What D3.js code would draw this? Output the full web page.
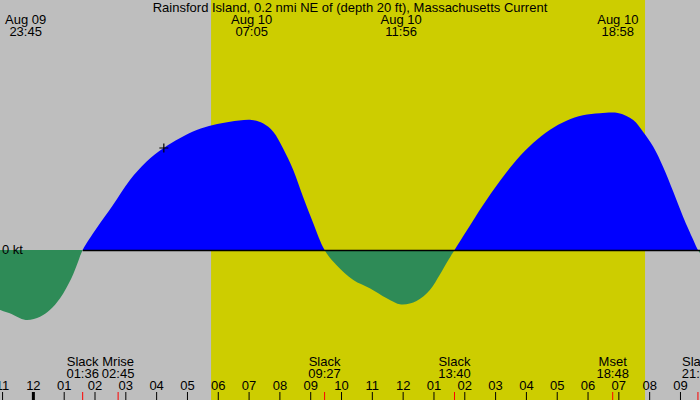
<!DOCTYPE html>
<html>
<head>
<meta charset="utf-8">
<script src="https://cdn.jsdelivr.net/npm/d3@7"></script>
<style>
    body { margin: 0; padding: 0; background: #fff; }
    svg text { font-family: "Liberation Sans", Arial, sans-serif; font-size: 13px; fill: #000; }
</style>
</head>
<body>
<div id="chart"></div>
<script>
var titleText = "Rainsford Island, 0.2 nmi NE of (depth 20 ft), Massachusetts Current";
var startTime = "2025-08-09 22:55";
var endTime = "2025-08-10 21:38";
var sunriseTime = "2025-08-10 05:46";
var sunsetTime = "2025-08-10 19:51";

// current speed in knots (flood +, ebb -)
var curveTimes = [
    "2025-08-09 22:55", "2025-08-09 23:14", "2025-08-09 23:45", "2025-08-10 00:13", "2025-08-10 00:32",
    "2025-08-10 00:52", "2025-08-10 01:14", "2025-08-10 01:27", "2025-08-10 01:36", "2025-08-10 02:03",
    "2025-08-10 02:35", "2025-08-10 03:08", "2025-08-10 03:40", "2025-08-10 04:13", "2025-08-10 04:45",
    "2025-08-10 05:18", "2025-08-10 05:50", "2025-08-10 06:23", "2025-08-10 07:05", "2025-08-10 07:27",
    "2025-08-10 07:47", "2025-08-10 08:06", "2025-08-10 08:26", "2025-08-10 08:45", "2025-08-10 09:05",
    "2025-08-10 09:27", "2025-08-10 09:50", "2025-08-10 10:23", "2025-08-10 10:55", "2025-08-10 11:28",
    "2025-08-10 11:56", "2025-08-10 12:26", "2025-08-10 12:52", "2025-08-10 13:11", "2025-08-10 13:28",
    "2025-08-10 13:40", "2025-08-10 14:03", "2025-08-10 14:36", "2025-08-10 15:08", "2025-08-10 15:41",
    "2025-08-10 16:13", "2025-08-10 16:46", "2025-08-10 17:18", "2025-08-10 17:50", "2025-08-10 18:23",
    "2025-08-10 18:58", "2025-08-10 19:28", "2025-08-10 19:47", "2025-08-10 20:07", "2025-08-10 20:26",
    "2025-08-10 20:46", "2025-08-10 21:05", "2025-08-10 21:25", "2025-08-10 21:34", "2025-08-10 21:38"
];
var curveKnots = [
    -0.60, -0.633, -0.70, -0.667, -0.60,
    -0.483, -0.283, -0.117, 0, 0.217,
    0.45, 0.70, 0.883, 1.017, 1.117,
    1.20, 1.25, 1.283, 1.30, 1.267,
    1.183, 1.017, 0.80, 0.533, 0.267,
    0, -0.15, -0.30, -0.383, -0.483,
    -0.545, -0.51, -0.40, -0.25, -0.10,
    0, 0.187, 0.453, 0.687, 0.903,
    1.07, 1.203, 1.293, 1.347, 1.367,
    1.37, 1.30, 1.183, 1.033, 0.833,
    0.583, 0.333, 0.10, 0, -0.03
];

// max flood / max ebb labels along the top
var peakTimes = ["2025-08-09 23:45", "2025-08-10 07:05", "2025-08-10 11:56", "2025-08-10 18:58"];
var peakDays = ["Aug 09", "Aug 10", "Aug 10", "Aug 10"];
var peakLabels = ["23:45", "07:05", "11:56", "18:58"];

// slack / moon events along the bottom
var eventTimes = ["2025-08-10 01:36", "2025-08-10 02:45", "2025-08-10 09:27", "2025-08-10 13:40", "2025-08-10 18:48", "2025-08-10 21:34"];
var eventNames = ["Slack", "Mrise", "Slack", "Slack", "Mset", "Slack"];
var eventLabels = ["01:36", "02:45", "09:27", "13:40", "18:48", "21:34"];

var nowTime = "2025-08-10 04:14";
var nowKnots = 1.02;
var zeroLabel = "0 kt";

var W = 700, H = 400;
var parse = d3.timeParse("%Y-%m-%d %H:%M");

var data = curveTimes.map(function(t, i) {
    return { t: parse(t), v: curveKnots[i] };
});

var x = d3.scaleTime().domain([parse(startTime), parse(endTime)]).range([0, W]);
var y = d3.scaleLinear().domain([-1, 1]).range([350, 150]);
var y0 = y(0);

var svg = d3.select("#chart").append("svg")
    .attr("width", W)
    .attr("height", H);

// night / day background
svg.append("rect").attr("x", 0).attr("y", 0).attr("width", W).attr("height", H).attr("fill", "#bebebe");
svg.append("rect")
    .attr("x", x(parse(sunriseTime)))
    .attr("y", 0)
    .attr("width", x(parse(sunsetTime)) - x(parse(sunriseTime)))
    .attr("height", H)
    .attr("fill", "#cdcd00");

var defs = svg.append("defs");
defs.append("clipPath").attr("id", "clipFlood")
    .append("rect").attr("x", 0).attr("y", 0).attr("width", W).attr("height", y0);
defs.append("clipPath").attr("id", "clipEbb")
    .append("rect").attr("x", 0).attr("y", y0).attr("width", W).attr("height", H - y0);

var area = d3.area()
    .x(function(d) { return x(d.t); })
    .y0(y0)
    .y1(function(d) { return y(d.v); })
    .curve(d3.curveCatmullRom.alpha(0.5));

svg.append("path").datum(data)
    .attr("d", area)
    .attr("fill", "#0000ff")
    .attr("clip-path", "url(#clipFlood)");
svg.append("path").datum(data)
    .attr("d", area)
    .attr("fill", "#2e8b57")
    .attr("clip-path", "url(#clipEbb)");

// zero line, starts at first slack
svg.append("line")
    .attr("x1", x(parse(eventTimes[0])))
    .attr("x2", W)
    .attr("y1", y0 + 0.5)
    .attr("y2", y0 + 0.5)
    .attr("stroke", "#000")
    .attr("stroke-width", 1.3);

svg.append("text").attr("x", 2).attr("y", y0 + 4).text(zeroLabel);

// "now" marker
var nx = x(parse(nowTime)), ny = y(nowKnots);
svg.append("path")
    .attr("d", "M" + (nx - 4.5) + "," + ny + "H" + (nx + 4.5) + "M" + nx + "," + (ny - 4.5) + "V" + (ny + 4.5))
    .attr("stroke", "#000")
    .attr("stroke-width", 1.2);

// title
svg.append("text")
    .attr("x", W / 2)
    .attr("y", 12)
    .attr("text-anchor", "middle")
    .text(titleText);

// top labels
var peakGroup = svg.append("g");
peakTimes.forEach(function(t, i) {
    var px = x(parse(t));
    peakGroup.append("text").attr("x", px).attr("y", 24).attr("text-anchor", "middle").text(peakDays[i]);
    peakGroup.append("text").attr("x", px).attr("y", 36).attr("text-anchor", "middle").text(peakLabels[i]);
});

// hour ticks
var hours = x.ticks(d3.timeHour.every(1));
var fmt = d3.timeFormat("%I");
var axis = svg.append("g");
hours.forEach(function(h) {
    var hx = x(h);
    var midnight = h.getHours() === 0;
    axis.append("line")
        .attr("x1", hx).attr("x2", hx)
        .attr("y1", 392).attr("y2", H)
        .attr("stroke", "#000")
        .attr("stroke-width", midnight ? 3 : 1);
    axis.append("text")
        .attr("x", hx)
        .attr("y", 389.5)
        .attr("text-anchor", "middle")
        .text(fmt(h));
});

// event ticks + labels
eventTimes.forEach(function(t, i) {
    var ex = x(parse(t));
    axis.append("line")
        .attr("x1", ex).attr("x2", ex)
        .attr("y1", 392).attr("y2", H)
        .attr("stroke", "#ff0000")
        .attr("stroke-width", 1);
    axis.append("text").attr("x", ex).attr("y", 366).attr("text-anchor", "middle").text(eventNames[i]);
    axis.append("text").attr("x", ex).attr("y", 378).attr("text-anchor", "middle").text(eventLabels[i]);
});
</script>
</body>
</html>
